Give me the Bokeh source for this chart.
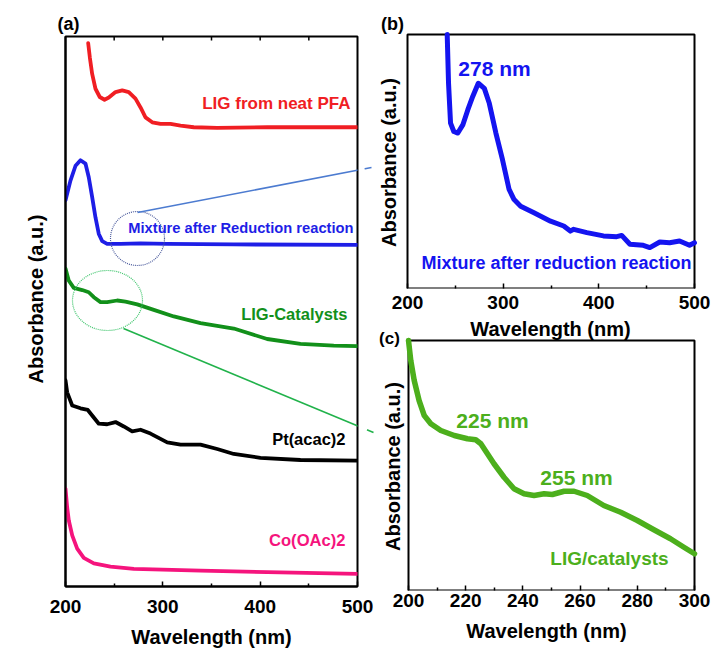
from bokeh.plotting import figure
from bokeh.layouts import row, column
from bokeh.models import Label, Arrow, NormalHead, Range1d, FixedTicker, Title
from bokeh.embed import file_html
from bokeh.resources import INLINE

# ---------------- data ----------------
# Panel (a): stacked UV-vis spectra, absorbance in arbitrary units (0-100 of panel height)
lig_pfa_wl = [223.3, 225.0, 227.4, 230.8, 235.2, 240.1, 244.5, 251.4, 258.3, 265.0, 271.9, 277.1,
              282.2, 289.1, 297.6, 307.9, 318.2, 331.8, 355.9, 407.2, 500]
lig_pfa_abs = [98.8, 96.2, 93.2, 90.5, 89.0, 88.5, 88.9, 89.9, 90.2, 89.9, 88.7, 87.1,
               85.3, 84.4, 84.1, 84.1, 83.8, 83.5, 83.4, 83.5, 83.5]

mixture_wl = [200, 205.1, 210.3, 215.4, 220.5, 223.9, 227.4, 230.8, 234.2, 237.7, 242.8, 256.5,
              277.1, 304.5, 372.9, 500]
mixture_abs = [70.2, 73.8, 76.5, 77.5, 76.9, 74.4, 70.8, 67.1, 64.1, 62.8, 62.3, 62.3,
               62.4, 62.3, 62.2, 62.1]

lig_cat_wl = [200, 203.4, 208.5, 217.2, 223.9, 229.1, 236.0, 242.8, 253.1, 261.6, 273.7, 290.7,
              311.3, 338.7, 372.9, 407.2, 441.4, 475.6, 500]
lig_cat_abs = [57.8, 55.6, 54.3, 53.9, 53.5, 52.6, 51.7, 51.7, 52.0, 51.8, 51.3, 50.3,
               49.1, 47.9, 46.9, 45.0, 44.1, 43.8, 43.7]

pt_wl = [200, 201.7, 206.9, 215.4, 222.9, 227.4, 234.2, 242.8, 251.4, 259.9, 268.5, 277.1, 287.3,
         304.5, 318.2, 338.7, 355.9, 372.9, 400.3, 441.4, 500]
pt_abs = [37.5, 35.3, 32.9, 32.4, 32.1, 31.1, 29.6, 29.5, 29.9, 29.1, 28.2, 28.5, 27.8,
          26.2, 25.8, 25.8, 25.0, 24.1, 23.4, 23.0, 22.9]

co_wl = [200, 201.7, 203.4, 206.9, 212.0, 218.8, 229.1, 246.2, 270.2, 338.7, 407.2, 500]
co_abs = [17.8, 14.4, 12.0, 9.3, 6.9, 5.2, 4.2, 3.6, 3.2, 2.9, 2.6, 2.3]

# Panel (b): mixture after reduction reaction (the curve leaves the box at its top edge)
b_wl = [241.5, 242.9, 245.0, 248.4, 252.6, 257.8, 263.0, 268.2, 274.0, 280.3, 285.5, 292.4, 299.3,
        306.2, 311.4, 318.3, 332.2, 349.5, 363.3, 370.2, 373.7, 387.5, 404.8, 418.7, 423.9, 432.5,
        446.4, 453.3, 463.7, 474.0, 484.4, 494.8, 500]
b_abs = [100, 80.8, 65.1, 61.8, 61.2, 64.4, 70.3, 75.6, 80.8, 78.8, 72.9, 61.2, 50.7,
         39.0, 35.0, 32.4, 29.8, 26.5, 24.6, 22.6, 23.3, 22.0, 20.7, 20.4, 20.9, 17.4,
         17.0, 16.1, 18.3, 18.0, 18.7, 17.0, 18.0]

# Panel (c): LIG/catalysts, 200-300 nm
c_wl = [200, 200.8, 202.0, 203.7, 205.5, 207.8, 211.3, 216.0, 220.6, 223.5, 225.3, 227.6, 229.9,
        233.4, 236.9, 240.4, 243.9, 247.4, 250.3, 254.4, 257.9, 262.5, 268.3, 274.2, 280.0,
        285.8, 291.6, 296.3, 300]
c_abs = [100, 92, 84, 76, 70, 66.7, 64, 62, 60.7, 60.3, 58.7, 54.7, 50.7,
         45.3, 40.7, 38.7, 38, 38.7, 38.4, 39.7, 39.7, 38, 34, 31.3, 28,
         24.3, 20.7, 17.3, 14.7]

# tick labels
a_ticks = [200, 300, 400, 500]
a_minor = [250, 350, 450]
a_top_ticks = [250, 300, 350, 400, 450]
b_ticks = [200, 300, 400, 500]
b_minor = [250, 350, 450]
c_ticks = [200, 220, 240, 260, 280, 300]
c_minor = [210, 230, 250, 270, 290]

# ---------------- style ----------------
FONT = "Liberation Sans"
RED = "#F01E23"
BLUE_A = "#1E1EE6"
GREEN_A = "#12901A"
BLACK = "#000000"
PINK = "#F5147D"
BLUE_B = "#1414F0"
GREEN_C = "#4CAF1C"
ARROW_BLUE = "#4C7BD0"
CIRCLE_BLUE = "#4A5A9C"
ARROW_GREEN = "#21B24B"
CIRCLE_GREEN = "#3CC46A"


def style_xaxis(ax, ticks, minor, label_standoff, title, title_standoff):
    ax.ticker = FixedTicker(ticks=ticks, minor_ticks=minor)
    ax.major_tick_in = 5
    ax.major_tick_out = 0
    ax.minor_tick_in = 3
    ax.minor_tick_out = 0
    ax.major_tick_line_width = 1.5
    ax.minor_tick_line_width = 1.5
    ax.axis_line_width = 2
    ax.major_label_text_font = FONT
    ax.major_label_text_font_size = "19px"
    ax.major_label_text_font_style = "bold"
    ax.major_label_text_color = "black"
    ax.major_label_standoff = label_standoff
    if title:
        ax.axis_label = title
        ax.axis_label_text_font = FONT
        ax.axis_label_text_font_size = "20px"
        ax.axis_label_text_font_style = "bold"
        ax.axis_label_text_color = "black"
        ax.axis_label_standoff = title_standoff


def text(p, x, y, s, color, size, align="center", angle=0):
    p.add_layout(Label(x=x, y=y, text=s, text_color=color, text_font=FONT,
                       text_font_size=size, text_font_style="bold",
                       text_align=align, text_baseline="middle",
                       angle=angle, angle_units="deg"))


def side_title(p, s, side, offset, standoff, size="18px"):
    p.add_layout(Title(text=s, align="left", offset=offset, standoff=standoff,
                       text_font=FONT, text_font_size=size, text_font_style="bold",
                       text_color="black"), side)


# ---------------- panel (a) ----------------
pa = figure(width=378, height=656, min_border_left=65, min_border_right=21,
            min_border_top=36, min_border_bottom=70,
            x_range=Range1d(200, 500), y_range=Range1d(0, 100),
            output_backend="svg", toolbar_location=None)
pa.grid.visible = False
pa.outline_line_color = "black"
pa.outline_line_width = 2
style_xaxis(pa.xaxis[0], a_ticks, a_minor, 13, "Wavelength (nm)", 10)
ya = pa.yaxis[0]
ya.ticker = FixedTicker(ticks=[], minor_ticks=[])
ya.major_label_standoff = 0
ya.axis_line_width = 2
side_title(pa, "(a)", "above", -8, 5)
side_title(pa, "Absorbance (a.u.)", "left", 203, 38, "20px")


def ax_(px):
    return 200 + (px - 65) * 300 / 292


def ay_(py):
    return (586 - py) * 100 / 550


# inward ticks along the top edge
pa.segment(x0=a_top_ticks, y0=[100] * len(a_top_ticks), x1=a_top_ticks,
           y1=[ay_(36 + 4)] * len(a_top_ticks), line_color="black", line_width=1.5)

for wl, ab, col in [(lig_pfa_wl, lig_pfa_abs, RED), (mixture_wl, mixture_abs, BLUE_A),
                    (lig_cat_wl, lig_cat_abs, GREEN_A), (pt_wl, pt_abs, BLACK),
                    (co_wl, co_abs, PINK)]:
    pa.line(wl, ab, line_color=col, line_width=3.8, line_join="round", line_cap="round")

# dotted highlight circles
pa.ellipse(x=[ax_(137)], y=[ay_(238)], width=54 * 300 / 292, height=54 * 100 / 550,
           fill_color=None, line_color=CIRCLE_BLUE, line_dash="1 1", line_width=1.2)
pa.ellipse(x=[ax_(107)], y=[ay_(300)], width=70 * 300 / 292, height=60 * 100 / 550,
           fill_color=None, line_color=CIRCLE_GREEN, line_dash="1 1", line_width=1.2)

pa.add_layout(Arrow(end=NormalHead(size=7, fill_color=ARROW_BLUE, line_color=ARROW_BLUE),
                    x_start=ax_(137), y_start=ay_(212), x_end=ax_(371), y_end=ay_(167),
                    line_color=ARROW_BLUE, line_width=1.6))
pa.add_layout(Arrow(end=NormalHead(size=7, fill_color=ARROW_GREEN, line_color=ARROW_GREEN),
                    x_start=ax_(123), y_start=ay_(328), x_end=ax_(373), y_end=ay_(432),
                    line_color=ARROW_GREEN, line_width=1.6))

text(pa, ax_(350), ay_(103), "LIG from neat PFA", RED, "17px", "right")
text(pa, ax_(353), ay_(227), "Mixture after Reduction reaction", BLUE_A, "14.7px", "right")
text(pa, ax_(347), ay_(313), "LIG-Catalysts", GREEN_A, "16.5px", "right")
text(pa, ax_(345), ay_(438), "Pt(acac)2", BLACK, "16.5px", "right")
text(pa, ax_(345), ay_(540), "Co(OAc)2", PINK, "16.6px", "right")


# ---------------- right column: panels (b) and (c) ----------------
# Each drawing area spans the whole column width (x 378..714); the axes box of each
# panel is drawn inside it so that tags and titles can sit beside the box.
def boxed_panel(area, box, xlim, height, bottom_border):
    (ax0, ax1, ay0, ay1), (bl, br, bt, bb) = area, box
    sx = (xlim[1] - xlim[0]) / (br - bl)
    sy = 100 / (bb - bt)
    p = figure(width=ax1 - ax0, height=height, min_border_left=0, min_border_right=0,
               min_border_top=0, min_border_bottom=bottom_border,
               x_range=Range1d(xlim[0] - (bl - ax0) * sx, xlim[1] + (ax1 - br) * sx),
               y_range=Range1d(0, 100 + (bt - ay0) * sy), y_axis_location=None,
               output_backend="svg", toolbar_location=None)
    p.grid.visible = False
    p.outline_line_color = None
    p.quad(left=[xlim[0]], right=[xlim[1]], bottom=[0], top=[100], fill_color=None,
           line_color="black", line_width=2)

    def px2x(px):
        return xlim[0] + (px - bl) * sx

    def py2y(py):
        return (bb - py) * sy
    return p, px2x, py2y


B_H = 317
pb, bx_, by_ = boxed_panel((378, 714, 0, B_H), (407, 694, 34, 288), (200, 500), B_H, B_H - 288)
style_xaxis(pb.xaxis[0], b_ticks, b_minor, 7, None, 0)
pb.xaxis[0].axis_line_color = None
pb.line(b_wl, b_abs, line_color=BLUE_B, line_width=5, line_join="round", line_cap="round")
text(pb, bx_(494), by_(68), "278 nm", BLUE_B, "21px")
text(pb, bx_(556), by_(262), "Mixture after reduction reaction", BLUE_B, "18px")
text(pb, bx_(392), by_(23), "(b)", BLACK, "18px")
text(pb, bx_(388), by_(162), "Absorbance (a.u.)", BLACK, "20px", "center", 90)

C_H = 656 - B_H
pc, cx_, cy_ = boxed_panel((378, 714, B_H, 656), (408, 694, 340, 590), (200, 300), C_H, 66)
style_xaxis(pc.xaxis[0], c_ticks, c_minor, 3, "Wavelength (nm)", 10)
pc.xaxis[0].axis_line_color = None
pc.line(c_wl, c_abs, line_color=GREEN_C, line_width=5.5, line_join="round", line_cap="round")
text(pc, cx_(492), cy_(420), "225 nm", GREEN_C, "21px")
text(pc, cx_(576), cy_(477), "255 nm", GREEN_C, "21px")
text(pc, cx_(609), cy_(558), "LIG/catalysts", GREEN_C, "19px")
text(pc, cx_(389), cy_(338), "(c)", BLACK, "17px")
text(pc, cx_(392), cy_(466), "Absorbance (a.u.)", BLACK, "20px", "center", 90)
# x title of panel (b), which sits in the strip between the two panels
text(pc, cx_(550), cy_(328), "Wavelength (nm)", BLACK, "20px")

layout = row(pa, column(pb, pc))
open("out.html", "w").write(file_html(layout, INLINE))
